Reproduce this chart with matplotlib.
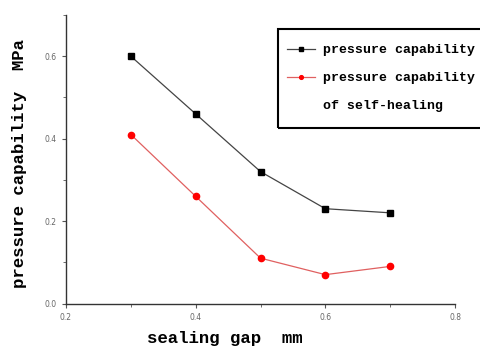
import matplotlib.pyplot as plt
from matplotlib.lines import Line2D
from matplotlib.patches import Rectangle
from matplotlib.ticker import MultipleLocator

gap = [0.3, 0.4, 0.5, 0.6, 0.7]
pressure = [0.60, 0.46, 0.32, 0.23, 0.22]
pressure_heal = [0.41, 0.26, 0.11, 0.07, 0.09]

mono = ['Liberation Mono', 'DejaVu Sans Mono']

fig = plt.figure(figsize=(4.8, 3.5), dpi=100)
ax = fig.add_axes([66/480, 1-303.5/350, (455-66)/480, (303.5-15)/350])

l1, = ax.plot(gap, pressure, color='#444444', lw=0.9, marker='s', ms=4.5,
              mfc='black', mec='black')
l2, = ax.plot(gap, pressure_heal, color='#e06060', lw=0.9, marker='o', ms=4.5,
              mfc='red', mec='red')

ax.set_xlim(0.2, 0.8)
ax.set_ylim(0, 0.7)
ax.xaxis.set_minor_locator(MultipleLocator(0.1))
ax.yaxis.set_minor_locator(MultipleLocator(0.1))
ax.set_xticks([0.2, 0.4, 0.6, 0.8])
ax.set_xticklabels(['0.2', '0.4', '0.6', '0.8'])
ax.set_yticks([0.0, 0.2, 0.4, 0.6])
ax.set_yticklabels(['0.0', '0.2', '0.4', '0.6'])
ax.tick_params(which='both', direction='out', color='#555555', labelsize=5.5,
               labelcolor='#666666')
ax.tick_params(which='major', length=3)
ax.tick_params(which='minor', length=2)

for s in ['top', 'right']:
    ax.spines[s].set_visible(False)
for s in ['left', 'bottom']:
    ax.spines[s].set_color('#333333')
    ax.spines[s].set_linewidth(1.0)

fig.text(225/480, 1-338/350, 'sealing gap  mm', family=mono, fontsize=12.5,
         fontweight='bold', ha='center', va='center')
fig.text(20/480, 1-163/350, 'pressure capability  MPa', family=mono, fontsize=12.5,
         fontweight='bold', ha='center', va='center', rotation=90)

# legend frame drawn by hand, runs off the right edge like the original
fig.patches.append(Rectangle((278/480, 1-128/350), 210/480, 99/350,
                             transform=fig.transFigure, fill=False,
                             edgecolor='black', lw=1.5, clip_on=False))

blank = Line2D([], [], color='none')
leg = ax.legend([l1, l2, blank],
                ['pressure capability', 'pressure capability', 'of self-healing'],
                loc='upper left', bbox_to_anchor=(287/480, 1-44/350),
                bbox_transform=fig.transFigure, frameon=False,
                borderaxespad=0, borderpad=0, handlelength=2.1, handletextpad=0.65,
                markerscale=0.6, labelspacing=1.2,
                prop={'family': mono, 'size': 9.5, 'weight': 'bold'})

fig.savefig('out.png', dpi=100)
